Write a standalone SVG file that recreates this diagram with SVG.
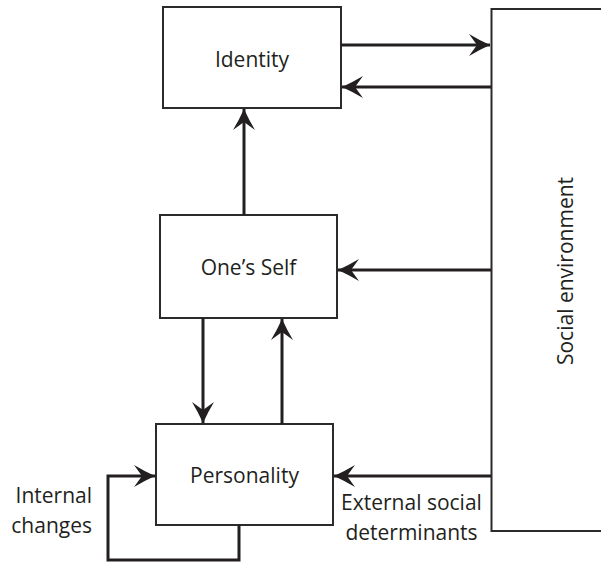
<svg xmlns="http://www.w3.org/2000/svg" width="601" height="562" viewBox="0 0 601 562">
<style>
.box{fill:#fff;stroke:#2b2b2b;stroke-width:2}
.lbl{font-family:"Open Sans","Liberation Sans",sans-serif;font-size:21px;fill:#231f20}
.mid{text-anchor:middle}
.con{fill:none;stroke:#231f20;stroke-width:3}
</style>
<defs>
<marker id="ah" markerUnits="userSpaceOnUse" markerWidth="24" markerHeight="26" viewBox="-22 -12 24 24" refX="0" refY="0" orient="auto">
<path d="M0,0 Q-11,-5 -21,-11 L-13,0 L-21,11 Q-11,5 0,0 Z" fill="#231f20"/>
</marker>
</defs>
<g id="social-environment">
<rect class="box" x="491.5" y="9" width="130" height="522"/>
<text class="lbl mid" transform="translate(573,271) rotate(-90)">Social environment</text>
</g>
<g id="identity">
<rect class="box" x="163" y="7" width="178" height="101"/>
<text class="lbl mid" x="252" y="67">Identity</text>
</g>
<g id="ones-self">
<rect class="box" x="160" y="215" width="177" height="103"/>
<text class="lbl mid" x="248.5" y="275">One’s Self</text>
</g>
<g id="personality">
<rect class="box" x="156" y="424" width="177" height="101"/>
<text class="lbl mid" x="244.5" y="483">Personality</text>
</g>
<g id="connectors">
<path class="con" d="M341,45 H490" marker-end="url(#ah)"/>
<path class="con" d="M491,87 H342" marker-end="url(#ah)"/>
<path class="con" d="M244,215 V109" marker-end="url(#ah)"/>
<path class="con" d="M491,270 H338" marker-end="url(#ah)"/>
<path class="con" d="M203,318 V423" marker-end="url(#ah)"/>
<path class="con" d="M282,424 V319" marker-end="url(#ah)"/>
<path class="con" d="M491,476 H334" marker-end="url(#ah)"/>
<path class="con" d="M239,525 V560 H108 V476 H155" marker-end="url(#ah)"/>
</g>
<g id="labels">
<text class="lbl" text-anchor="end" x="92" y="503">Internal</text>
<text class="lbl" text-anchor="end" x="92" y="533">changes</text>
<text class="lbl mid" x="411.5" y="510">External social</text>
<text class="lbl mid" x="411.5" y="540">determinants</text>
</g>
</svg>
